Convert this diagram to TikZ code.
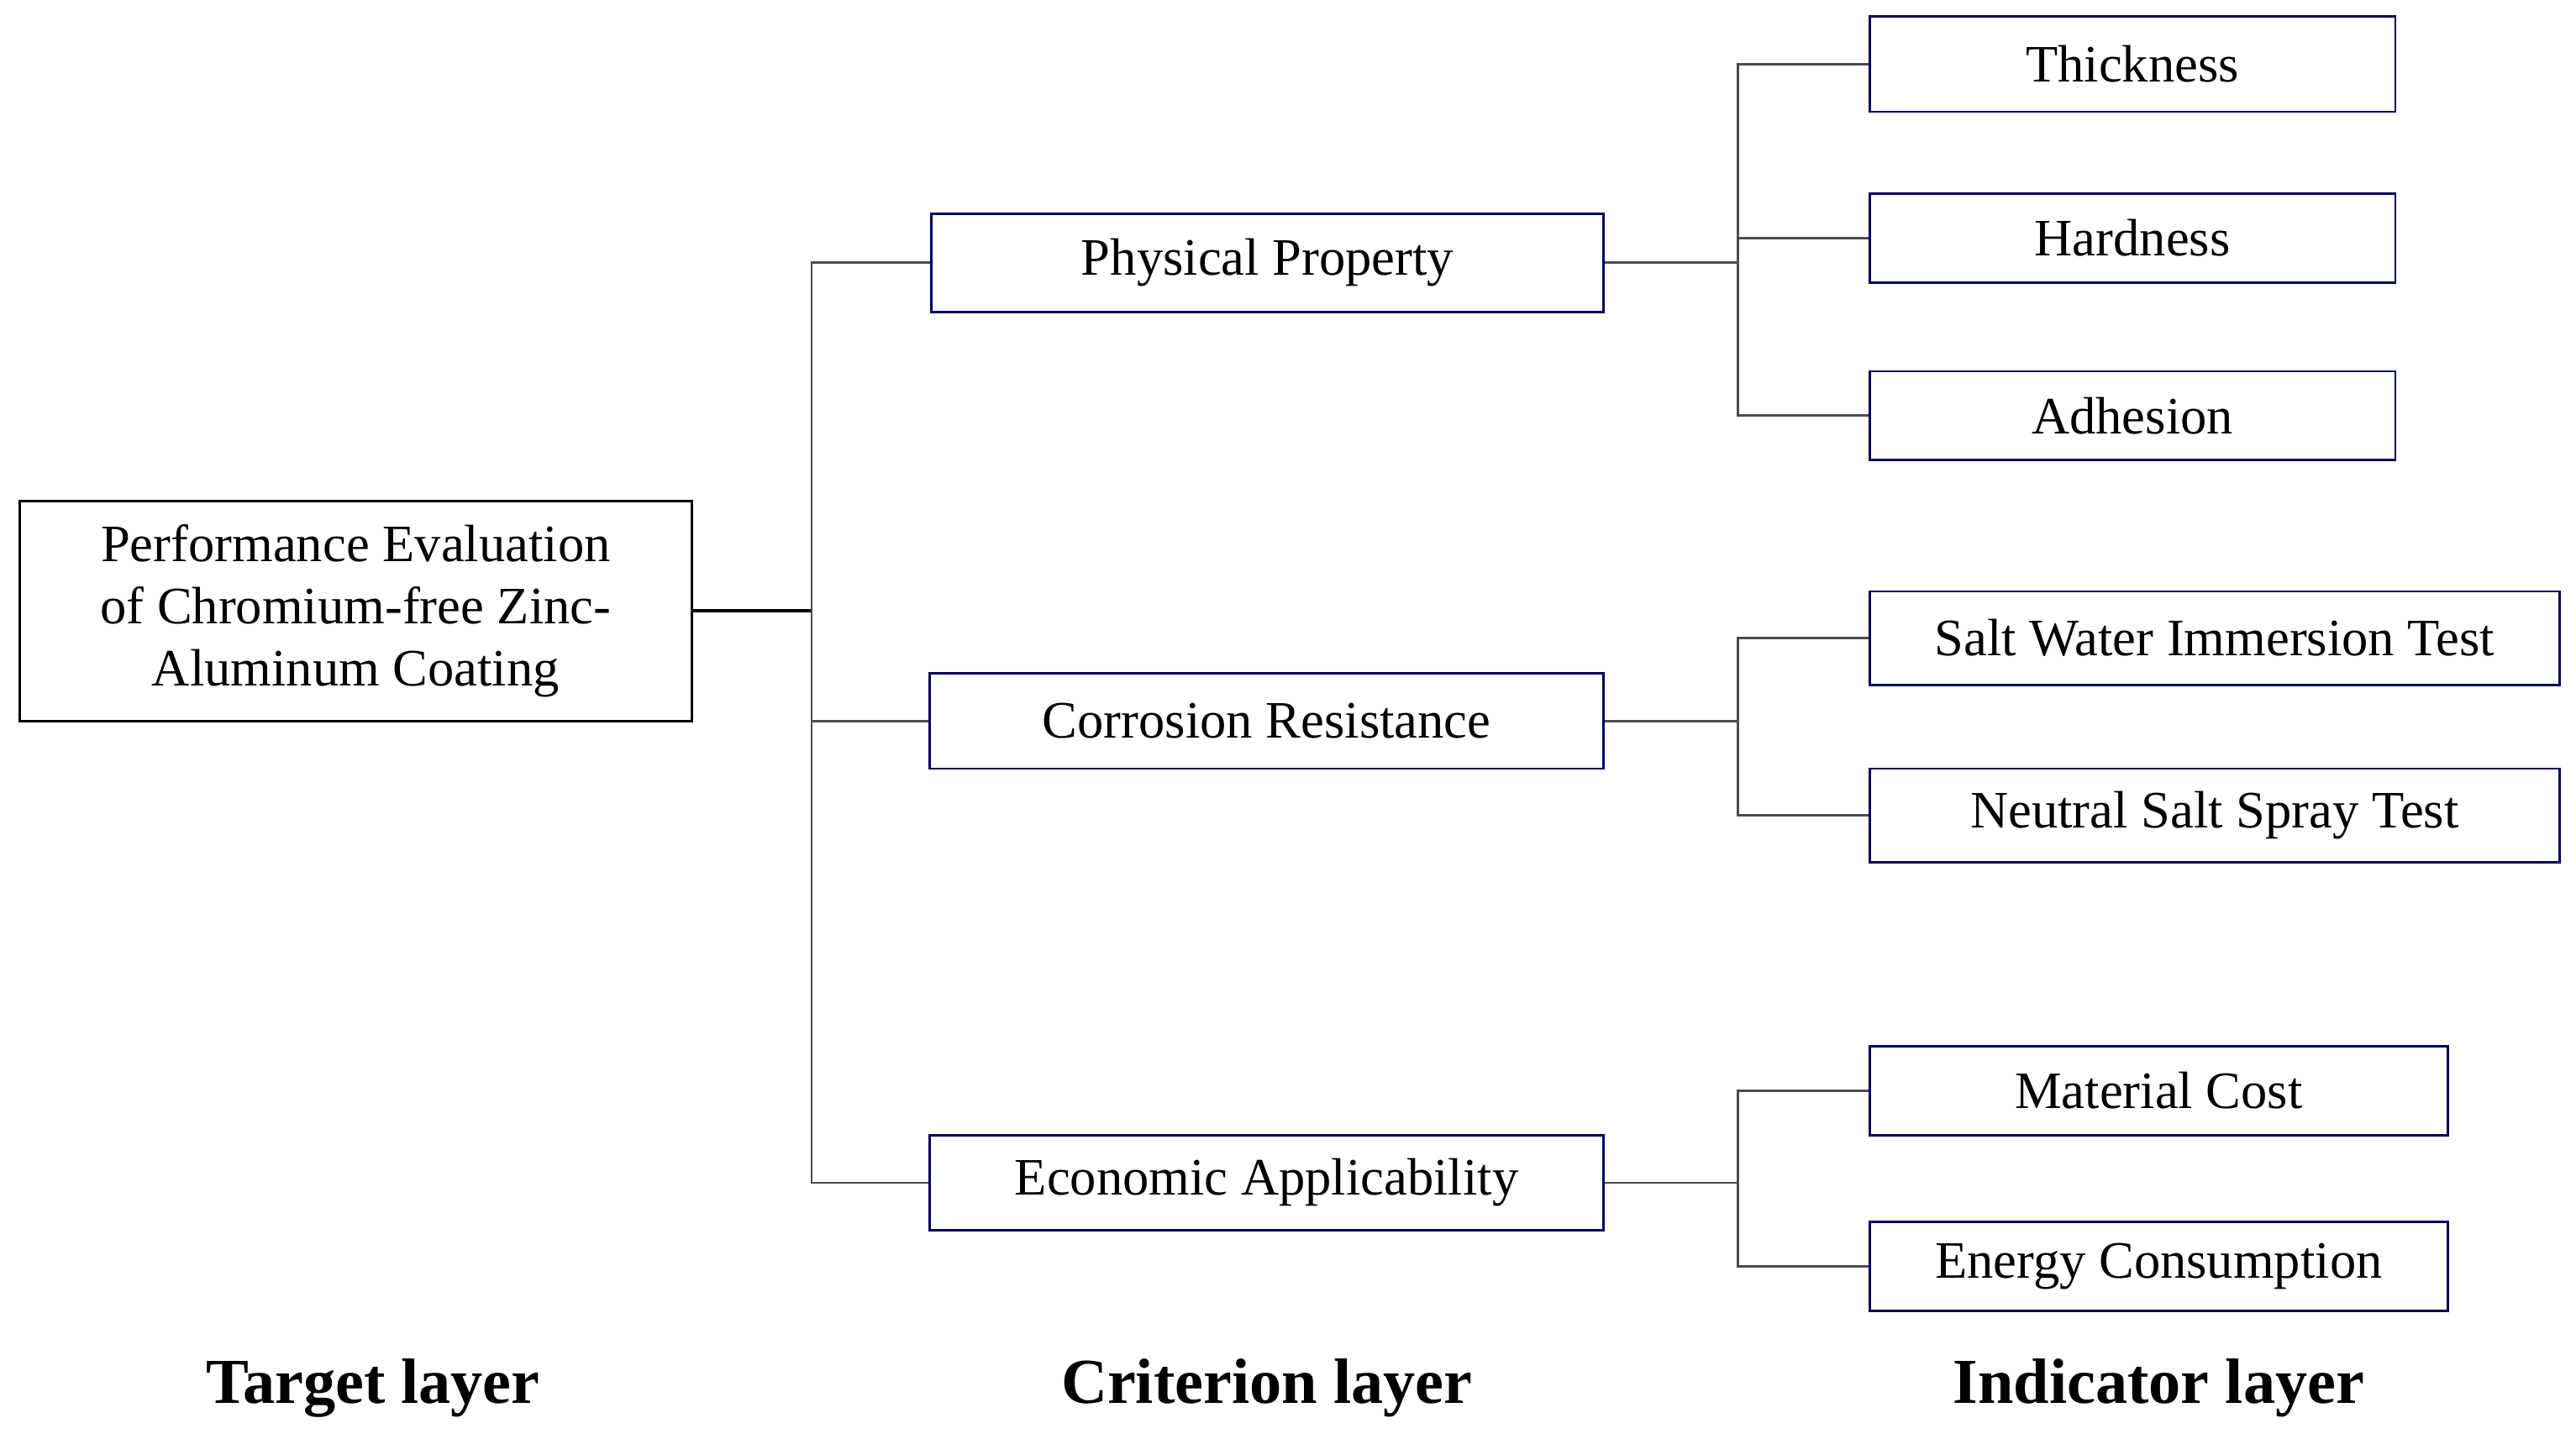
\documentclass[tikz,border=0pt]{standalone}
\usepackage{fontspec}
\setmainfont{Liberation Serif}
\begin{document}
\begin{tikzpicture}[x=1pt,y=-1pt]
                    \tikzset{box/.style={draw=blue!35!black,line width=1.4pt,minimum height=56pt,inner sep=0pt,font=\fontsize{32}{38}\selectfont},
                             link/.style={draw=black!70,line width=1.4pt},
                             layer/.style={font=\fontsize{39}{40}\selectfont\bfseries}}
                    \useasboundingbox (0,0) rectangle (1568,876);
                    \node [box,draw=black,minimum width=409pt,minimum height=134pt,align=center] (target) at (216.5,372) {Performance Evaluation\\of Chromium-free Zinc-\\Aluminum Coating};
                    \node [box,minimum width=409pt,minimum height=60pt] (phys) at (771.5,160) {Physical Property};
                    \node [box,minimum width=410pt,minimum height=58pt] (corr) at (771,439) {Corrosion Resistance};
                    \node [box,minimum width=410pt,minimum height=58pt] (econ) at (771,720) {Economic Applicability};
                    \node [box,minimum width=320pt,minimum height=58pt] (thick) at (1298,39) {Thickness};
                    \node [box,minimum width=320pt,minimum height=54pt] (hard) at (1298,145) {Hardness};
                    \node [box,minimum width=320pt,minimum height=54pt] (adh) at (1298,253) {Adhesion};
                    \node [box,minimum width=420pt,minimum height=57pt] (salt) at (1348,388.5) {Salt Water Immersion Test};
                    \node [box,minimum width=420pt,minimum height=57pt] (spray) at (1348,496.5) {Neutral Salt Spray Test};
                    \node [box,minimum width=352pt,minimum height=54pt] (mat) at (1314,664) {Material Cost};
                    \node [box,minimum width=352pt,minimum height=54pt] (energy) at (1314,771) {Energy Consumption};
                    \node [layer] (tl) at (227,845) {Target layer};
                    \node [layer] (cl) at (771,845) {Criterion layer};
                    \node [layer] (il) at (1314,845) {Indicator layer};
                    % target to criteria
                    \draw [link,draw=black,line width=2pt] (target.east) -- (494,372);
                    \foreach \c in {phys,corr,econ}
                        \draw [link] (494,372) |- (\c.west);
                    % criteria to indicators
                    \foreach \p/\k in {phys/thick,phys/hard,phys/adh,corr/salt,corr/spray,econ/mat,econ/energy}
                        \draw [link] (\p.east) -- ++(81,0) |- (\k.west);
                \end{tikzpicture}
\end{document}
